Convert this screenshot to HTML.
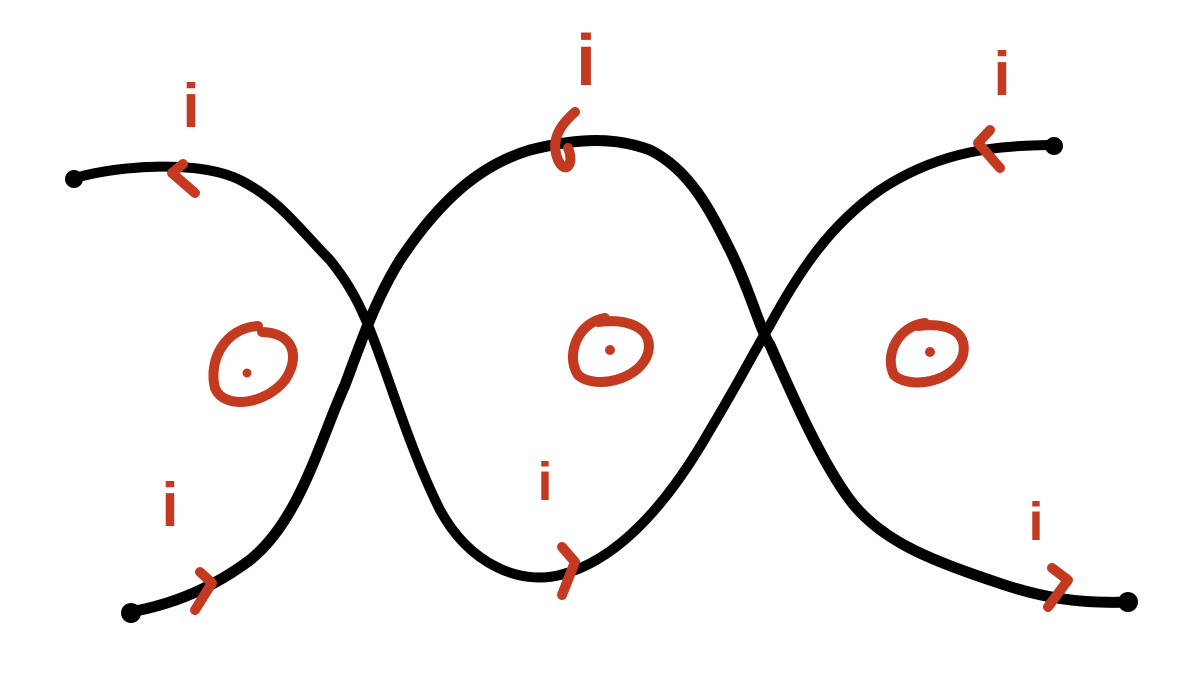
<!DOCTYPE html>
<html><head><meta charset="utf-8"><style>
html,body{margin:0;padding:0;background:#fff;width:1178px;height:682px;overflow:hidden}
svg{display:block}
</style></head><body>
<svg width="1178" height="682" viewBox="0 0 1178 682">
<g fill="none" stroke="#000" stroke-linecap="round" stroke-linejoin="round">
<path stroke-width="10" d="M75,178 C120,165 200,160 240,180 C280,200 300,230 330,260 C350,285 360,305 370,330 C390,380 410,450 440,510 C470,565 520,585 560,575 C620,560 670,500 710,430 C740,380 755,350 770,325 C800,270 830,225 880,190 C940,150 1000,145 1055,145"/>
<path stroke-width="11" d="M130,612 C170,605 210,590 250,560 C300,520 320,440 345,385 C360,345 375,300 400,260 C440,200 480,165 530,150 C570,140 610,135 650,150 C690,170 710,210 730,250 C750,290 760,330 770,345 C790,390 820,460 850,500 C880,540 930,560 990,580 C1040,598 1080,604 1130,602"/>
<circle cx="74" cy="179" r="9" fill="#000" stroke="none"/>
<circle cx="131" cy="613" r="10" fill="#000" stroke="none"/>
<circle cx="1054" cy="146" r="9" fill="#000" stroke="none"/>
<circle cx="1128" cy="602" r="10" fill="#000" stroke="none"/>
</g>
<g fill="none" stroke="#c43a20" stroke-width="10" stroke-linecap="round" stroke-linejoin="round">
<g>
<path d="M258,326 C225,328 208,360 215,388 C224,410 265,405 285,380 C300,358 295,333 262,332"/>
<circle cx="247" cy="373" r="4.5" fill="#c43a20" stroke="none"/></g>
<g>
<path d="M605,318 C578,322 565,355 578,375 C595,390 640,380 648,353 C654,328 628,318 598,322"/>
<circle cx="610" cy="350" r="5" fill="#c43a20" stroke="none"/></g>
<g>
<path d="M925,323 C898,326 884,355 894,375 C910,390 955,382 963,355 C968,332 948,322 918,326"/>
<circle cx="930" cy="352" r="5" fill="#c43a20" stroke="none"/></g>
<path d="M183,164 L172,173 L195,193"/>
<path d="M575,112 C560,125 550,140 558,160 C565,175 575,165 568,148"/>
<path d="M990,130 L978,143 L1000,168"/>
<path d="M200,572 L212,583 L195,610"/>
<path d="M562,547 L575,562 L562,595"/>
<path d="M1052,568 L1068,580 L1048,607"/>
</g>
<g fill="#c43a20" font-family="Liberation Sans, sans-serif" font-weight="bold" font-size="62" text-anchor="middle">
<text x="191" y="127">i</text>
<text x="586" y="85" font-size="72">i</text>
<text x="1002" y="95">i</text>
<text x="170" y="526">i</text>
<text x="545" y="500" font-size="54">i</text>
<text x="1036" y="540" font-size="54">i</text>
</g>
</svg>
</body></html>
